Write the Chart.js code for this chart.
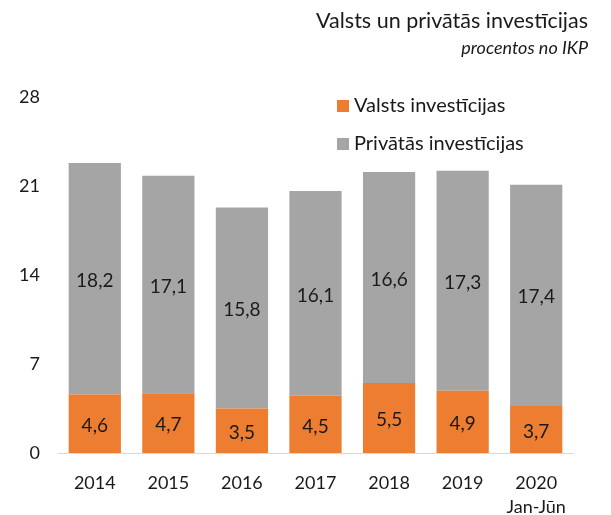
<!DOCTYPE html>
<html>
<head>
<meta charset="utf-8">
<script src="https://cdn.jsdelivr.net/npm/chart.js@4.4.1/dist/chart.umd.min.js"></script>
<style>
    body { margin: 0; background: #fff; }
    #wrap { width: 611px; height: 515px; position: relative; }
</style>
</head>
<body>
<div id="wrap"><canvas id="invChart"></canvas></div>
<script>
// Data
const years = ['2014', '2015', '2016', '2017', '2018', '2019', ['2020', 'Jan-Jūn']];
const publicInv = [4.6, 4.7, 3.5, 4.5, 5.5, 4.9, 3.7];
const privateInv = [18.2, 17.1, 15.8, 16.1, 16.6, 17.3, 17.4];
const yTicks = [0, 7, 14, 21, 28];

const titleText = 'Valsts un privātās investīcijas';
const subtitleText = 'procentos no IKP';
const FONT = 'Lato, "Open Sans", sans-serif';

// labels inside bar segments + title + legend
const decorPlugin = {
    id: 'decor',
    afterDatasetsDraw(chart) {
        const c = chart.ctx;
        c.save();
        c.fillStyle = '#1a1a1a';
        c.textAlign = 'center';
        c.textBaseline = 'middle';
        c.font = '19px ' + FONT;
        chart.data.datasets.forEach((ds, i) => {
            chart.getDatasetMeta(i).data.forEach((bar, j) => {
                const mid = (bar.y + bar.base) / 2 + 2;
                c.fillText(ds.data[j].toFixed(1).replace('.', ','), bar.x, mid);
            });
        });

        // title
        c.textAlign = 'right';
        c.font = '21.5px ' + FONT;
        c.fillText(titleText, 588, 21);
        c.font = 'italic 18px ' + FONT;
        c.fillText(subtitleText, 588, 48);

        // legend
        c.textAlign = 'left';
        c.font = '20px ' + FONT;
        chart.data.datasets.forEach((ds, i) => {
            const y = 106 + i * 38;
            c.fillStyle = ds.backgroundColor;
            c.fillRect(337, y - 6, 12, 12);
            c.fillStyle = '#1a1a1a';
            c.fillText(ds.label, 354, y);
        });
        c.restore();
    }
};

const ctx = document.getElementById('invChart').getContext('2d');
const invChart = new Chart(ctx, {
    type: 'bar',
    data: {
        labels: years,
        datasets: [
            {
                label: 'Valsts investīcijas',
                data: publicInv,
                backgroundColor: '#ED7D31',
                borderWidth: 0,
                categoryPercentage: 1,
                barPercentage: 0.71,
            },
            {
                label: 'Privātās investīcijas',
                data: privateInv,
                backgroundColor: '#A5A5A5',
                borderWidth: 0,
                categoryPercentage: 1,
                barPercentage: 0.71,
            },
        ],
    },
    options: {
        responsive: true,
        maintainAspectRatio: false,
        animation: false,
        layout: {
            padding: { top: 97, left: 20, right: 38, bottom: 0 },
        },
        plugins: {
            legend: { display: false },
            tooltip: { enabled: false },
        },
        scales: {
            x: {
                stacked: true,
                afterFit(axis) { axis.height = 62; },
                grid: { display: false, drawTicks: false },
                border: { display: true, color: '#d9d9d9', width: 1 },
                ticks: {
                    color: '#1a1a1a',
                    padding: 18,
                    maxRotation: 0,
                    font: { family: FONT, size: 18, lineHeight: 1.33 },
                },
            },
            y: {
                stacked: true,
                min: 0,
                max: 28,
                afterBuildTicks(axis) {
                    axis.ticks = yTicks.map(v => ({ value: v }));
                },
                afterFit(axis) { axis.width = 38; },
                grid: { display: false, drawTicks: false },
                border: { display: false },
                ticks: {
                    color: '#1a1a1a',
                    padding: 18,
                    font: { family: FONT, size: 18 },
                },
            },
        },
    },
    plugins: [decorPlugin],
});
</script>
</body>
</html>
